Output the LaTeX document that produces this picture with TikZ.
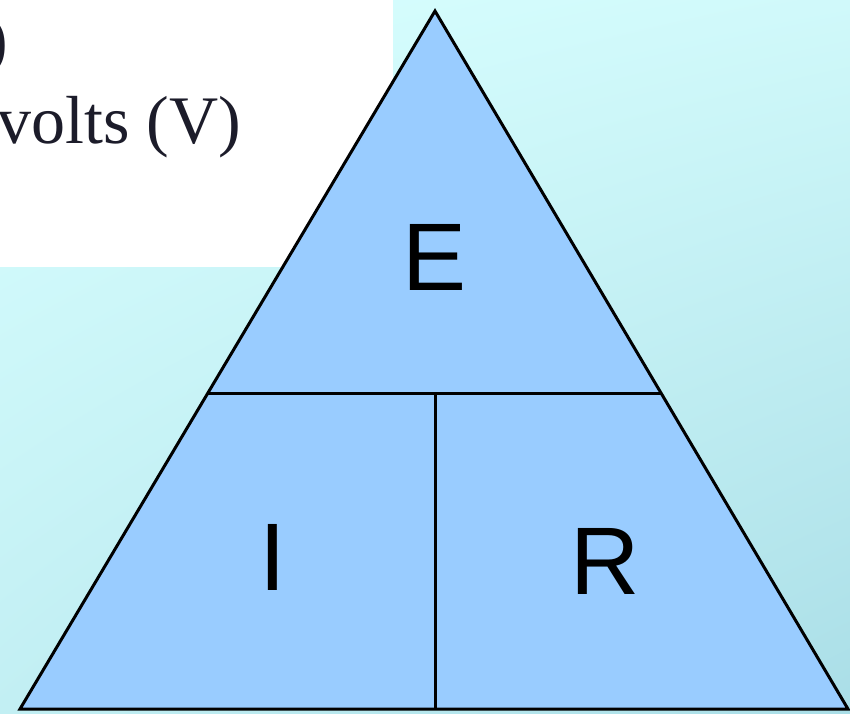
\documentclass[tikz,border=0pt]{standalone}
\usepackage{fontspec}
\setmainfont{Liberation Serif}
\newfontfamily\lettersfont{Liberation Sans}
\usetikzlibrary{calc,shadings}
\definecolor{bgUL}{HTML}{D8FFFF}
\definecolor{bgUR}{HTML}{D0F9FA}
\definecolor{bgLL}{HTML}{C2EFF3}
\definecolor{bgLR}{HTML}{AADEE7}
\definecolor{trifill}{HTML}{99CCFF}
\definecolor{inktext}{HTML}{1C1C2A}
\tikzset{
  edge/.style={line width=3pt, line join=miter, black},
  letter/.style={font=\lettersfont\fontsize{96}{96}\selectfont, inner sep=0pt, anchor=center},
  notetext/.style={font=\fontsize{68}{68}\selectfont, text=inktext, inner sep=0pt}
}
\begin{document}
\begin{tikzpicture}[x=1pt,y=-1pt]
\useasboundingbox (0,0) rectangle (850,713);
\clip (0,0) rectangle (850,713);
% background gradient
\shade[upper left=bgUL, upper right=bgUR, lower left=bgLL, lower right=bgLR] (0,0) rectangle (850,713);
% white note panel
\fill[white] (0,0) rectangle (393,267);
\node[notetext, anchor=base west] (volts) at (-3,143) {volts (V)};
\node[notetext, anchor=base east] (paren) at (8,62) {)};
% triangle
\coordinate (apex) at (435,11);
\coordinate (bl) at (20,709);
\coordinate (br) at (848,709);
\coordinate (ml) at ($(apex)!0.5473!(bl)$);
\coordinate (mr) at ($(apex)!0.5473!(br)$);
\coordinate (mt) at ($(ml)!(apex)!(mr)$);
\coordinate (mb) at ($(bl)!(apex)!(br)$);
\filldraw[edge, fill=trifill] (apex) -- (bl) -- (br) -- cycle;
\draw[edge] (ml) -- (mr);
\draw[edge] (mt) -- (mb);
% letters
\node[letter] (E) at (435,257.5) {E};
\node[letter] (I) at (273,557.5) {I};
\node[letter] (R) at (605,561) {R};
\end{tikzpicture}
\end{document}
